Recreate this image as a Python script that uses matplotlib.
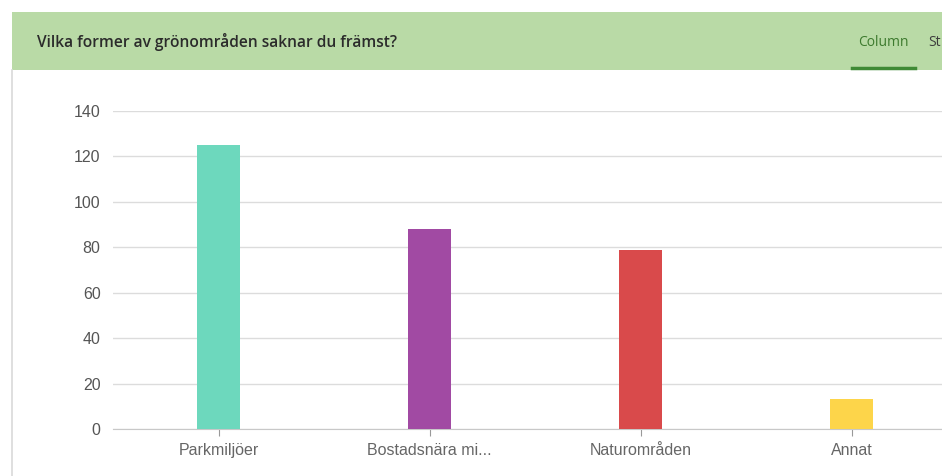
import matplotlib.pyplot as plt
from matplotlib.patches import Rectangle

categories = ["Parkmiljöer", "Bostadsnära mi...", "Naturområden", "Annat"]
values = [125, 88, 79, 13]
colors = ["#6dd8bd", "#a14aa3", "#d94a4b", "#fdd54a"]
yticks = [0, 20, 40, 60, 80, 100, 120, 140]
title = "Vilka former av grönområden saknar du främst?"

W, H = 942, 476
fig = plt.figure(figsize=(W / 100, H / 100), dpi=100)
fig.patch.set_facecolor("white")

# header band
fig.patches.append(Rectangle((12 / W, 1 - 70 / H), 1, 58 / H, transform=fig.transFigure,
                             facecolor="#b9daa6", edgecolor="none", zorder=0))
# left panel border
fig.add_artist(plt.Line2D([12 / W, 12 / W], [0, 1 - 70 / H], transform=fig.transFigure,
                          color="#d9d9d9", lw=1.2))
fig.text(37 / W, 1 - 42 / H, title, fontsize=11.2, family="Open Sans", color="#2b2b2b",
         va="center", ha="left", fontweight="semibold")
fig.text(858 / W, 1 - 43 / H, "Column", fontsize=10, family="Open Sans", color="#3d7a2e",
         va="center", ha="left")
fig.text(928 / W, 1 - 43 / H, "St", fontsize=10, family="Open Sans", color="#3d3d3d",
         va="center", ha="left")
fig.add_artist(plt.Line2D([852 / W, 915 / W], [1 - 67.5 / H, 1 - 67.5 / H],
                          transform=fig.transFigure, color="#3f8a35", lw=2.5))

left, bottom, top = 113, 429, 111
ax = fig.add_axes([left / W, 1 - bottom / H, (W - left) / W, (bottom - top) / H])
x = range(len(categories))
ax.bar(x, values, width=0.2, color=colors, zorder=3)
ax.set_xlim(-0.5, (W - left) / 211 - 0.5)
ax.set_ylim(0, 140)
ax.set_yticks(yticks)
ax.set_xticks(list(x))
ax.set_xticklabels(categories)
ax.yaxis.grid(True, color="#dcdcdc", lw=1)
for s in ["top", "right", "left"]:
    ax.spines[s].set_visible(False)
ax.spines["bottom"].set_color("#c8c8c8")
ax.tick_params(axis="y", length=0, pad=9, labelsize=11.5, labelcolor="#555555")
ax.tick_params(axis="x", length=5, color="#999999", pad=5, labelsize=11.5, labelcolor="#666666")
for lab in ax.get_xticklabels() + ax.get_yticklabels():
    lab.set_family("Liberation Sans")

fig.savefig("out.png", dpi=100)
